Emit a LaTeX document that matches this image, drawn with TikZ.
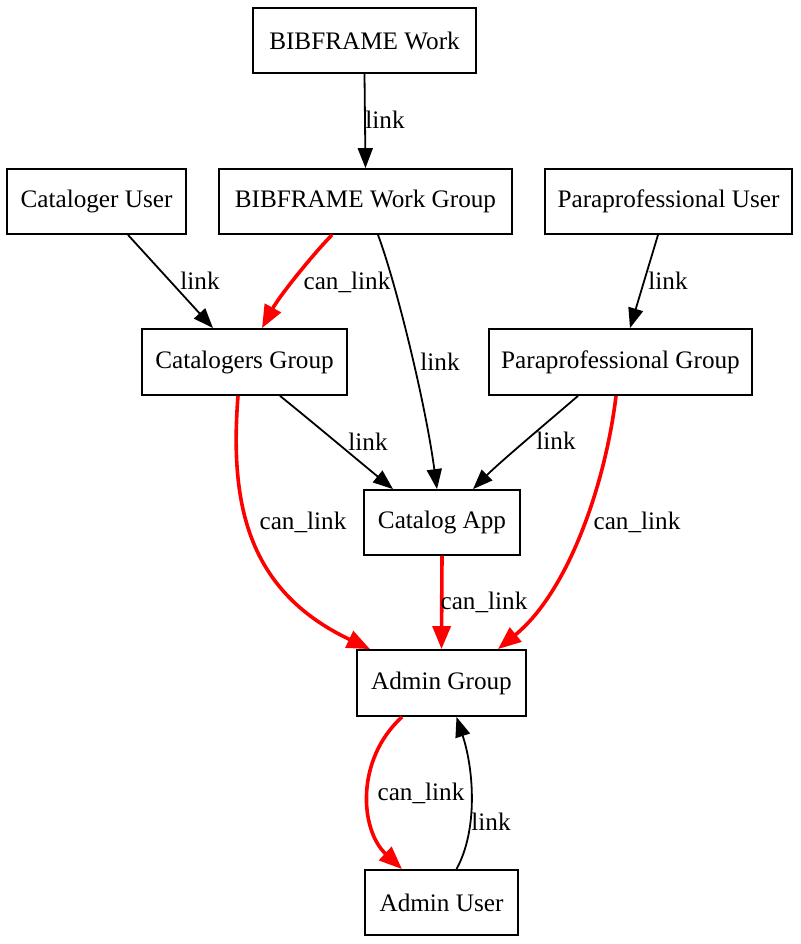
\documentclass[tikz,border=0pt]{standalone}
\usepackage{fontspec}
\setmainfont{Liberation Serif}
\usetikzlibrary{arrows.meta,calc}
\begin{document}
\begin{tikzpicture}[x=0.5pt,y=-0.5pt,
  box/.style={draw,line width=0.9pt,inner sep=0pt,minimum height=32.5pt,font=\fontsize{12.6}{15}\selectfont},
  lnk/.style={line width=0.9pt,-{Triangle[length=10pt,width=7.5pt]}},
  canl/.style={line width=1.8pt,red,-{Triangle[length=11.5pt,width=9pt]}},
  lbl/.style={font=\fontsize{12.6}{15}\selectfont,inner sep=0pt,text=black}]
\useasboundingbox (0,0) rectangle (800,944);
\node[box,minimum width=111.5pt] (bw) at (364.5,40.5) {BIBFRAME Work};
\node[box,minimum width=89.5pt] (cu) at (96.5,201.5) {Cataloger User};
\node[box,minimum width=146.5pt] (bwg) at (365.5,201.5) {BIBFRAME Work Group};
\node[box,minimum width=123.5pt] (pu) at (668.5,201.5) {Paraprofessional User};
\node[box,minimum width=102.5pt,minimum height=33pt] (cg) at (244.5,362) {Catalogers Group};
\node[box,minimum width=131.5pt,minimum height=33pt] (pg) at (620.5,362) {Paraprofessional Group};
\node[box,minimum width=78pt] (ca) at (442,522.5) {Catalog App};
\node[box,minimum width=84.5pt,minimum height=33pt] (ag) at (441.5,683) {Admin Group};
\node[box,minimum width=76.5pt] (au) at (441.5,902.5) {Admin User};
% edges
\draw[lnk] (bw.south) -- (bwg.north);
\node[lbl] (l1) at (385,120) {link};
\draw[lnk] ($(cu.south)+(31.5,0)$) -- ($(cg.north)+(-31.5,0)$);
\node[lbl] (l2) at (200,281) {link};
\draw[canl] ($(bwg.south)+(-33.5,0)$) .. controls (315,252) and (280,295) .. ($(cg.north)+(17.5,0)$);
\node[lbl] (l3) at (347,282) {can\_link};
\draw[lnk] ($(bwg.south)+(12.5,0)$) .. controls (395,280) and (425,400) .. ($(ca.north)+(-5,0)$);
\node[lbl] (l4) at (440,362) {link};
\draw[lnk] ($(pu.south)+(-10.5,0)$) -- ($(pg.north)+(9.5,0)$);
\node[lbl] (l5) at (668,281) {link};
\draw[lnk] ($(cg.south)+(35.5,0)$) .. controls (310,420) and (360,462) .. ($(ca.north)+(-49,0)$);
\node[lbl] (l6) at (368,442) {link};
\draw[lnk] ($(pg.south)+(-42.5,0)$) .. controls (550,420) and (500,462) .. ($(ca.north)+(31,0)$);
\node[lbl] (l7) at (556,441) {link};
\draw[canl] ($(cg.south)+(-6.5,0)$) .. controls (230,500) and (245,590) .. ($(ag.north)+(-71.5,0)$);
\node[lbl] (l8) at (303,522) {can\_link};
\draw[canl] ($(pg.south)+(-4.5,0)$) .. controls (606,480) and (570,590) .. ($(ag.north)+(56.5,0)$);
\node[lbl] (l9) at (637,522) {can\_link};
\draw[canl] (ca.south) -- (ag.north);
\node[lbl] (l10) at (484,602) {can\_link};
\draw[canl] ($(ag.south)+(-39.5,0)$) .. controls (355,760) and (360,830) .. ($(au.north)+(-39.5,0)$);
\node[lbl] (l11) at (421,793) {can\_link};
\draw[lnk] ($(au.north)+(15,0)$) .. controls (478,830) and (474,770) .. ($(ag.south)+(15,0)$);
\node[lbl] (l12) at (491,822) {link};
\end{tikzpicture}
\end{document}
